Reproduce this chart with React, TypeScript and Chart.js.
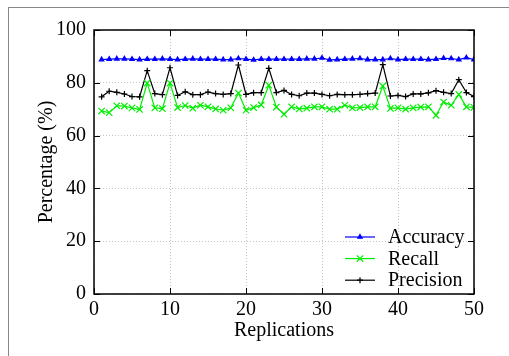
import React, { useEffect, useRef } from "react";
import { Chart, registerables } from "chart.js";

Chart.register(...registerables);

const replications = Array.from({ length: 50 }, (_, i) => i + 1);

const accuracy = [
  88.8, 88.95, 89.1, 89.1, 88.95, 88.8, 88.95, 88.95, 89.1, 88.95,
  88.8, 88.95, 89.1, 88.95, 88.95, 88.95, 88.8, 88.8, 89.2, 88.95,
  88.7, 88.95, 88.95, 88.95, 88.95, 88.95, 88.95, 89.1, 89.1, 89.4,
  88.7, 88.8, 88.95, 89.1, 89.2, 88.8, 88.8, 88.8, 89.2, 88.8,
  88.95, 88.95, 88.95, 88.8, 88.95, 89.3, 89.2, 88.8, 89.5, 88.8,
];

const recall = [
  69.3, 68.7, 71.3, 71.2, 70.5, 69.9, 79.9, 70.5, 70.2, 79.9,
  70.6, 71.4, 70.4, 71.5, 70.9, 70.1, 69.6, 70.5, 76.1, 69.6,
  70.6, 71.6, 79.1, 70.8, 68.1, 70.9, 70.1, 70.4, 70.9, 70.9,
  70.0, 70.0, 71.5, 70.5, 70.6, 70.9, 70.9, 78.8, 70.3, 70.5,
  70.0, 70.5, 70.8, 70.9, 67.7, 72.7, 71.5, 75.6, 70.9, 70.7,
];

const precision = [
  74.7, 76.8, 76.4, 75.75, 74.8, 74.7, 84.6, 75.9, 75.5, 85.7,
  75.2, 76.6, 75.5, 75.5, 76.5, 75.9, 75.6, 75.9, 86.75, 75.6,
  76.25, 76.25, 85.5, 76.3, 77.1, 75.6, 75.1, 76.1, 76.1, 75.6,
  75.1, 75.6, 75.5, 75.5, 75.6, 75.9, 76.1, 86.9, 75.0, 75.2,
  74.8, 75.8, 75.8, 76.2, 77.0, 76.4, 75.9, 81.2, 76.3, 74.8,
];

const xTicks = [0, 10, 20, 30, 40, 50];
const yTicks = [0, 20, 40, 60, 80, 100];

const FONT = '"Liberation Serif", "Times New Roman", serif';

function drawMarker(ctx: CanvasRenderingContext2D, style: string, x: number, y: number, r: number) {
  ctx.beginPath();
  if (style === "triangle") {
    ctx.moveTo(x, y - r);
    ctx.lineTo(x + r * 0.87, y + r * 0.5);
    ctx.lineTo(x - r * 0.87, y + r * 0.5);
    ctx.closePath();
    ctx.fill();
    ctx.stroke();
  } else if (style === "crossRot") {
    const d = r * 0.707;
    ctx.moveTo(x - d, y - d);
    ctx.lineTo(x + d, y + d);
    ctx.moveTo(x + d, y - d);
    ctx.lineTo(x - d, y + d);
    ctx.stroke();
  } else {
    ctx.moveTo(x - r, y);
    ctx.lineTo(x + r, y);
    ctx.moveTo(x, y - r);
    ctx.lineTo(x, y + r);
    ctx.stroke();
  }
}

const framePlugin = {
  id: "frameTicksLegend",
  afterDatasetsDraw(chart: any) {
    const { ctx, chartArea: a, scales } = chart;
    const xs = scales.x;
    const ys = scales.y;
    ctx.save();
    ctx.strokeStyle = "#000";
    ctx.lineWidth = 1;
    ctx.beginPath();
    xs.ticks.forEach((t: any) => {
      const px = Math.round(xs.getPixelForValue(t.value)) + 0.5;
      ctx.moveTo(px, a.bottom);
      ctx.lineTo(px, a.bottom - 6);
      ctx.moveTo(px, a.top);
      ctx.lineTo(px, a.top + 6);
    });
    ys.ticks.forEach((t: any) => {
      const py = Math.round(ys.getPixelForValue(t.value)) + 0.5;
      ctx.moveTo(a.left, py);
      ctx.lineTo(a.left + 6, py);
      ctx.moveTo(a.right, py);
      ctx.lineTo(a.right - 6, py);
    });
    ctx.stroke();
    ctx.lineWidth = 1.5;
    ctx.strokeRect(a.left, a.top, a.right - a.left, a.bottom - a.top);

    // legend
    ctx.font = `20px ${FONT}`;
    ctx.textBaseline = "middle";
    ctx.textAlign = "left";
    chart.data.datasets.forEach((ds: any, i: number) => {
      const yy = a.bottom - 57 + i * 21.6;
      const x0 = a.right - 129;
      const x1 = a.right - 99;
      ctx.strokeStyle = ds.borderColor;
      ctx.fillStyle = ds.borderColor;
      ctx.lineWidth = 1.2;
      ctx.beginPath();
      ctx.moveTo(x0, yy);
      ctx.lineTo(x1, yy);
      ctx.stroke();
      drawMarker(ctx, ds.pointStyle, (x0 + x1) / 2, yy, ds.pointStyle === "crossRot" ? 4.5 : ds.pointStyle === "cross" ? 3 : 2.5);
      ctx.fillStyle = "#000";
      ctx.fillText(ds.label, a.right - 86, yy + 1);
    });
    ctx.restore();
  },
};

export default function App() {
  const ref = useRef<HTMLCanvasElement | null>(null);

  useEffect(() => {
    if (!ref.current) return;
    const mk = (label: string, data: number[], color: string, style: string, r: number) => ({
      label,
      data: data.map((v, i) => ({ x: replications[i], y: v })),
      borderColor: color,
      backgroundColor: color,
      borderWidth: 1.2,
      pointStyle: style,
      pointRadius: r,
      pointBorderWidth: 1.2,
      pointHoverRadius: r,
      tension: 0,
    });
    const chart = new Chart(ref.current, {
      type: "line",
      data: {
        datasets: [
          mk("Accuracy", accuracy, "#0000ff", "triangle", 2.5),
          mk("Recall", recall, "#00ee00", "crossRot", 4.5),
          mk("Precision", precision, "#000000", "cross", 3),
        ],
      },
      options: {
        animation: false,
        responsive: false,
        devicePixelRatio: 1,
        layout: { padding: { left: 0, top: 30, right: 35, bottom: 0 } },
        plugins: { legend: { display: false }, tooltip: { enabled: false } },
        scales: {
          x: {
            type: "linear",
            min: 0,
            max: 50,
            afterFit: (s: any) => {
              s.height = 62;
            },
            afterBuildTicks: (s: any) => {
              s.ticks = xTicks.map((v) => ({ value: v }));
            },
            ticks: {
              color: "#000",
              padding: 4,
              maxRotation: 0,
              font: { family: FONT, size: 20 },
            },
            grid: {
              color: "#c4c4c4",
              lineWidth: 1,
              drawTicks: false,
              tickBorderDash: [1, 2],
            },
            border: { display: false, dash: [1, 2] },
            title: {
              display: true,
              text: "Replications",
              color: "#000",
              font: { family: FONT, size: 20 },
              padding: { top: 0, bottom: 13 },
            },
          },
          y: {
            min: 0,
            max: 100,
            afterFit: (s: any) => {
              s.width = 94;
            },
            afterBuildTicks: (s: any) => {
              s.ticks = yTicks.map((v) => ({ value: v }));
            },
            ticks: {
              color: "#000",
              padding: 8,
              font: { family: FONT, size: 20 },
            },
            grid: {
              color: "#c4c4c4",
              lineWidth: 1,
              drawTicks: false,
            },
            border: { display: false, dash: [1, 2] },
            title: {
              display: true,
              text: "Percentage (%)",
              color: "#000",
              font: { family: FONT, size: 20 },
              padding: { top: 35, bottom: 0 },
            },
          },
        },
      },
      plugins: [framePlugin],
    } as any);
    // dotted grid
    (chart.options.scales as any).x.grid.borderDash = [1, 2];
    chart.update();
    return () => chart.destroy();
  }, []);

  return (
    <div style={{ position: "absolute", left: 0, top: 0, width: 509, height: 356, overflow: "hidden", background: "#fff" }}>
      <div
        style={{
          position: "absolute",
          left: 8,
          top: 7,
          width: 700,
          height: 500,
          borderLeft: "1px solid #888",
          borderTop: "1px solid #888",
        }}
      />
      <canvas ref={ref} width={509} height={356} style={{ position: "absolute", left: 0, top: 0, width: 509, height: 356 }} />
    </div>
  );
}
